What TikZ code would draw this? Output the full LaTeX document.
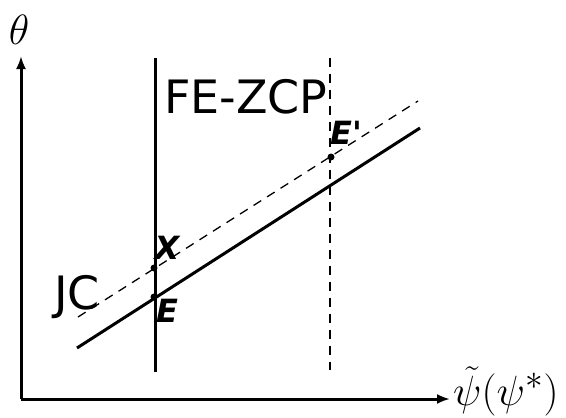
\documentclass[tikz,border=0pt]{standalone}
\usepackage{amsmath,amssymb}
\usepackage{fontspec}
\setsansfont{DejaVu Sans}
\usepackage{tikz}
\usetikzlibrary{arrows.meta,positioning,calc}

\newcommand{\bigmath}[1]{\scalebox{1.7}{\Huge$#1$}}

\begin{document}
\begin{tikzpicture}[
    x=1pt, y=-1pt,
    axis/.style={-{Latex[length=13pt,width=10pt]},line width=3pt},
    curve/.style={line width=3pt},
    shifted/.style={dashed,line width=1.3pt,dash pattern=on 9pt off 7pt},
    biglabel/.style={font=\sffamily\fontsize{46}{50}\selectfont, inner sep=0pt},
    pointlabel/.style={font=\sffamily\bfseries\itshape\fontsize{32}{34}\selectfont, inner sep=0pt},
    mathlabel/.style={inner sep=0pt},
    dot/.style={circle, fill=black, inner sep=0pt, minimum size=7pt}
]
\useasboundingbox (0,0) rectangle (566,418);

% Axes
\coordinate (origin) at (21,399);
\coordinate (ytip) at (21,56);
\coordinate (xtip) at (450,399);
\draw[axis] (origin) -- (ytip);
\draw[axis] (origin) -- (xtip);
\node[mathlabel] (theta) at (19,30) {\bigmath{\theta}};
\node[mathlabel, anchor=west] (psi) at (453,391) {\bigmath{\tilde{\psi}(\psi^{*})}};

% FE-ZCP lines
\coordinate (fetop) at (155,58);
\coordinate (febot) at (155,372);
\coordinate (newtop) at (330,58);
\coordinate (newbot) at (330,370);
\draw[curve] (fetop) -- (febot);
\draw[shifted] (newtop) -- (newbot);

% JC lines
\coordinate (jcstart) at (77,348);
\coordinate (jcend) at (420,128);
\coordinate (njcstart) at (78,317);
\coordinate (njcend) at (418,101);
\draw[curve] (jcstart) -- (jcend);
\draw[shifted] (njcstart) -- (njcend);

% Points
\node[dot] (E) at (154,297) {};
\node[dot] (X) at (154,268) {};
\node[dot] (Eprime) at (331,157) {};

% Labels
\node[biglabel] (fezcp) at (246,97) {FE-ZCP};
\node[biglabel] (jc) at (77,297) {JC};
\node[pointlabel] (Xlab) at (167,248) {X};
\node[pointlabel] (Elab) at (167,311) {E};
\node[pointlabel] (Eplab) at (346,133) {E\textquotesingle};

\end{tikzpicture}
\end{document}
